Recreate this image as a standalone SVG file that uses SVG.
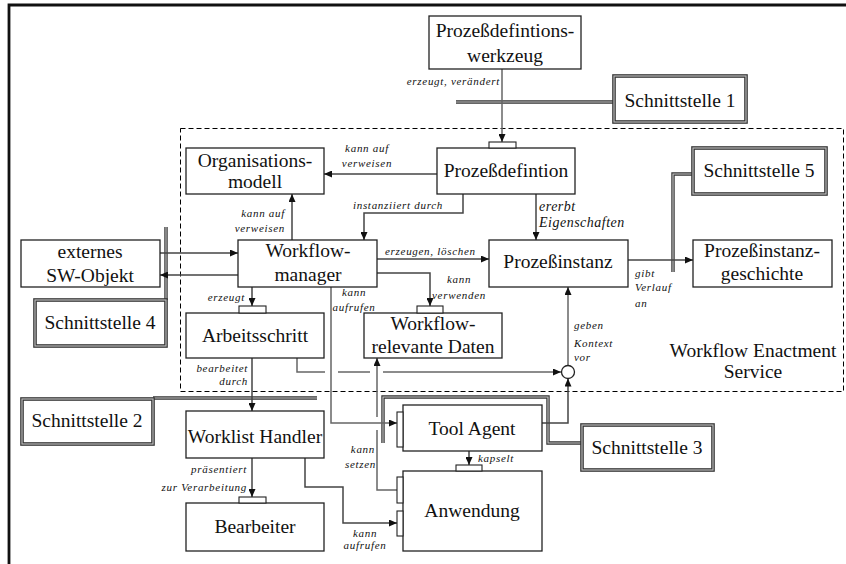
<svg xmlns="http://www.w3.org/2000/svg" width="846" height="564" viewBox="0 0 846 564">
  <style>
    .box { fill: #fff; stroke: #222; stroke-width: 1.3; }
    .port { fill: #fff; stroke: #222; stroke-width: 1.1; }
    .ifc-o { fill: #fff; stroke: #333; stroke-width: 3.6; }
    .ifc-i { fill: none; stroke: #bbb; stroke-width: 1.2; }
    .dl-o { fill: none; stroke: #333; stroke-width: 3.4; }
    .dl-i { fill: none; stroke: #ccc; stroke-width: 1.1; }
    .t { font-family: 'Liberation Serif', 'Times New Roman', serif; font-size: 19.5px; fill: #111; text-anchor: middle; }
    .lb { font-family: 'Liberation Serif', 'Times New Roman', serif; font-size: 11px; font-style: italic; letter-spacing: 0.7px; fill: #111; }
    .lbl { font-family: 'Liberation Serif', 'Times New Roman', serif; font-size: 14px; font-style: italic; letter-spacing: 0.5px; fill: #111; }
    .c { fill: none; stroke: #444; stroke-width: 1.5; }
    .cg { fill: none; stroke: #666; stroke-width: 1.5; }
    .mid { text-anchor: middle; }
    .end { text-anchor: end; }
  </style>
  <defs>
    <marker id="arr" viewBox="0 0 8 7" refX="8" refY="3.5" markerWidth="8" markerHeight="7" markerUnits="userSpaceOnUse" orient="auto">
      <path d="M0,0 L8,3.5 L0,7 z" fill="#111"/>
    </marker>
  </defs>

  <rect width="846" height="564" fill="#fff"/>

  <!-- outer frame (top and left edges in view) -->
  <path d="M9,564 V5 H846" fill="none" stroke="#111" stroke-width="2.8"/>

  <!-- Workflow Enactment Service boundary -->
  <g id="enactment-service">
    <rect x="180.5" y="128.5" width="663" height="263" fill="none" stroke="#000" stroke-width="1" stroke-dasharray="5,3"/>
    <text class="t" x="753" y="357">Workflow Enactment</text>
    <text class="t" x="753" y="378">Service</text>
  </g>

  <!-- interface lines (double strokes) -->
  <g id="interface-lines">
    <path class="dl-o" d="M456,102 H614"/>
    <path class="dl-i" d="M456,102 H614"/>
    <path class="dl-o" d="M693,174 H673 V272"/>
    <path class="dl-i" d="M693,174 H673 V272"/>
    <path class="dl-o" d="M166,227 V300"/>
    <path class="dl-i" d="M166,227 V300"/>
    <path class="dl-o" d="M153,398 H317"/>
    <path class="dl-i" d="M153,398 H317"/>
    <path class="dl-o" d="M383,443 V397 H548 V443 H582"/>
    <path class="dl-i" d="M383,443 V397 H548 V443 H582"/>
  </g>

  <!-- connectors -->
  <g id="connectors">
    <path class="cg" d="M502,69 V142" marker-end="url(#arr)"/>
    <path class="c" d="M437,174 H324" marker-end="url(#arr)"/>
    <path class="c" d="M463,194 V213 H364 V240" marker-end="url(#arr)"/>
    <path class="c" d="M536,194 V240" marker-end="url(#arr)"/>
    <path class="c" d="M292,240 V194" marker-end="url(#arr)"/>
    <path class="c" d="M160,253 H238" marker-end="url(#arr)"/>
    <path class="c" d="M238,275 H160" marker-end="url(#arr)"/>
    <path class="c" d="M252,287 V306" marker-end="url(#arr)"/>
    <path class="c" d="M377,259 H489" marker-end="url(#arr)"/>
    <path class="c" d="M377,273 H430 V306" marker-end="url(#arr)"/>
    <path class="cg" d="M331,287 V423 H397" marker-end="url(#arr)"/>
    <path class="cg" d="M297,358 V372 H325"/>
    <path class="cg" d="M338,372 H370"/>
    <path class="cg" d="M383,372 H561" marker-end="url(#arr)"/>
    <path class="cg" d="M568,365.5 V287" marker-end="url(#arr)"/>
    <path class="c" d="M542,423 H568 V378.5" marker-end="url(#arr)"/>
    <path class="c" d="M252,358 V411" marker-end="url(#arr)"/>
    <path class="cg" d="M397,490 H377 V430"/>
    <path class="cg" d="M377,417 V358" marker-end="url(#arr)"/>
    <path class="c" d="M305,458 V487 H343 V523 H397" marker-end="url(#arr)"/>
    <path class="c" d="M252,458 V497" marker-end="url(#arr)"/>
    <path class="c" d="M469,451 V465" marker-end="url(#arr)"/>
    <path class="c" d="M628,260 H693" marker-end="url(#arr)"/>
    <circle cx="568" cy="372" r="6.5" fill="#fff" stroke="#222" stroke-width="1.3"/>

    <text class="lb end" x="500" y="85">erzeugt, verändert</text>
    <text class="lb mid" x="367" y="152">kann auf</text>
    <text class="lb mid" x="367" y="167">verweisen</text>
    <text class="lb mid" x="398" y="209">instanziiert durch</text>
    <text class="lbl" x="539" y="211">ererbt</text>
    <text class="lbl" x="539" y="227">Eigenschaften</text>
    <text class="lb end" x="285" y="217">kann auf</text>
    <text class="lb end" x="285" y="232">verweisen</text>
    <text class="lb end" x="245" y="301">erzeugt</text>
    <text class="lb" x="385" y="255">erzeugen, löschen</text>
    <text class="lb mid" x="459" y="283">kann</text>
    <text class="lb mid" x="459" y="299">verwenden</text>
    <text class="lb mid" x="354" y="296">kann</text>
    <text class="lb mid" x="354" y="311">aufrufen</text>
    <text class="lb" x="635" y="277">gibt</text>
    <text class="lb" x="635" y="291">Verlauf</text>
    <text class="lb" x="635" y="307">an</text>
    <text class="lb" x="574" y="329">geben</text>
    <text class="lb" x="574" y="347">Kontext</text>
    <text class="lb" x="574" y="361">vor</text>
    <text class="lb end" x="248" y="372">bearbeitet</text>
    <text class="lb end" x="248" y="385">durch</text>
    <text class="lb end" x="375" y="453">kann</text>
    <text class="lb end" x="376" y="468">setzen</text>
    <text class="lb" x="478" y="462">kapselt</text>
    <text class="lb end" x="247" y="473">präsentiert</text>
    <text class="lb end" x="247" y="491">zur Verarbeitung</text>
    <text class="lb mid" x="365" y="537">kann</text>
    <text class="lb mid" x="365" y="549">aufrufen</text>
  </g>

  <g id="prozessdefinitionswerkzeug">
    <rect class="box" x="429" y="16" width="152" height="53"/>
    <text class="t" x="505" y="37">Prozeßdefintions-</text>
    <text class="t" x="505" y="62">werkzeug</text>
  </g>

  <g id="schnittstelle-1">
    <rect class="ifc-o" x="614" y="76" width="132" height="46"/>
    <rect class="ifc-i" x="614" y="76" width="132" height="46"/>
    <text class="t" x="680" y="107">Schnittstelle 1</text>
  </g>

  <g id="organisationsmodell">
    <rect class="box" x="186" y="148" width="138" height="46"/>
    <text class="t" x="255" y="167">Organisations-</text>
    <text class="t" x="255" y="188">modell</text>
  </g>

  <g id="prozessdefinition">
    <rect class="box" x="437" y="148" width="138" height="46"/>
    <rect class="port" x="489" y="142" width="27" height="6"/>
    <text class="t" x="506" y="177">Prozeßdefintion</text>
  </g>

  <g id="schnittstelle-5">
    <rect class="ifc-o" x="693" y="148" width="133" height="46"/>
    <rect class="ifc-i" x="693" y="148" width="133" height="46"/>
    <text class="t" x="759" y="177">Schnittstelle 5</text>
  </g>

  <g id="externes-sw-objekt">
    <rect class="box" x="21" y="240" width="139" height="47"/>
    <text class="t" x="90" y="258">externes</text>
    <text class="t" x="90" y="282">SW-Objekt</text>
  </g>

  <g id="workflow-manager">
    <rect class="box" x="238" y="240" width="139" height="47"/>
    <text class="t" x="308" y="257">Workflow-</text>
    <text class="t" x="308" y="281">manager</text>
  </g>

  <g id="prozessinstanz">
    <rect class="box" x="489" y="240" width="139" height="47"/>
    <text class="t" x="558" y="268">Prozeßinstanz</text>
  </g>

  <g id="prozessinstanzgeschichte">
    <rect class="box" x="693" y="240" width="139" height="47"/>
    <text class="t" x="762" y="257">Prozeßinstanz-</text>
    <text class="t" x="762" y="280">geschichte</text>
  </g>

  <g id="schnittstelle-4">
    <rect class="ifc-o" x="35" y="300" width="131" height="46"/>
    <rect class="ifc-i" x="35" y="300" width="131" height="46"/>
    <text class="t" x="100" y="329">Schnittstelle 4</text>
  </g>

  <g id="arbeitsschritt">
    <rect class="box" x="186" y="313" width="138" height="45"/>
    <rect class="port" x="239" y="306" width="27" height="7"/>
    <text class="t" x="255" y="342">Arbeitsschritt</text>
  </g>

  <g id="workflow-relevante-daten">
    <rect class="box" x="364" y="313" width="138" height="45"/>
    <rect class="port" x="417" y="306" width="26" height="7"/>
    <text class="t" x="433" y="330">Workflow-</text>
    <text class="t" x="433" y="353">relevante Daten</text>
  </g>

  <g id="schnittstelle-2">
    <rect class="ifc-o" x="22" y="399" width="131" height="45"/>
    <rect class="ifc-i" x="22" y="399" width="131" height="45"/>
    <text class="t" x="87" y="427">Schnittstelle 2</text>
  </g>

  <g id="worklist-handler">
    <rect class="box" x="186" y="411" width="138" height="47"/>
    <text class="t" x="255" y="443">Worklist Handler</text>
  </g>

  <g id="tool-agent">
    <rect class="box" x="403" y="405" width="139" height="46"/>
    <rect class="port" x="397" y="412" width="6" height="35"/>
    <text class="t" x="472" y="435">Tool Agent</text>
  </g>

  <g id="schnittstelle-3">
    <rect class="ifc-o" x="582" y="425" width="131" height="45"/>
    <rect class="ifc-i" x="582" y="425" width="131" height="45"/>
    <text class="t" x="647" y="454">Schnittstelle 3</text>
  </g>

  <g id="anwendung">
    <rect class="box" x="403" y="471" width="139" height="80"/>
    <rect class="port" x="456" y="465" width="26" height="6"/>
    <rect class="port" x="397" y="477" width="6" height="26"/>
    <rect class="port" x="397" y="511" width="6" height="25"/>
    <text class="t" x="472" y="517">Anwendung</text>
  </g>

  <g id="bearbeiter">
    <rect class="box" x="186" y="503" width="138" height="48"/>
    <rect class="port" x="239" y="497" width="27" height="6"/>
    <text class="t" x="255" y="533">Bearbeiter</text>
  </g>
</svg>
